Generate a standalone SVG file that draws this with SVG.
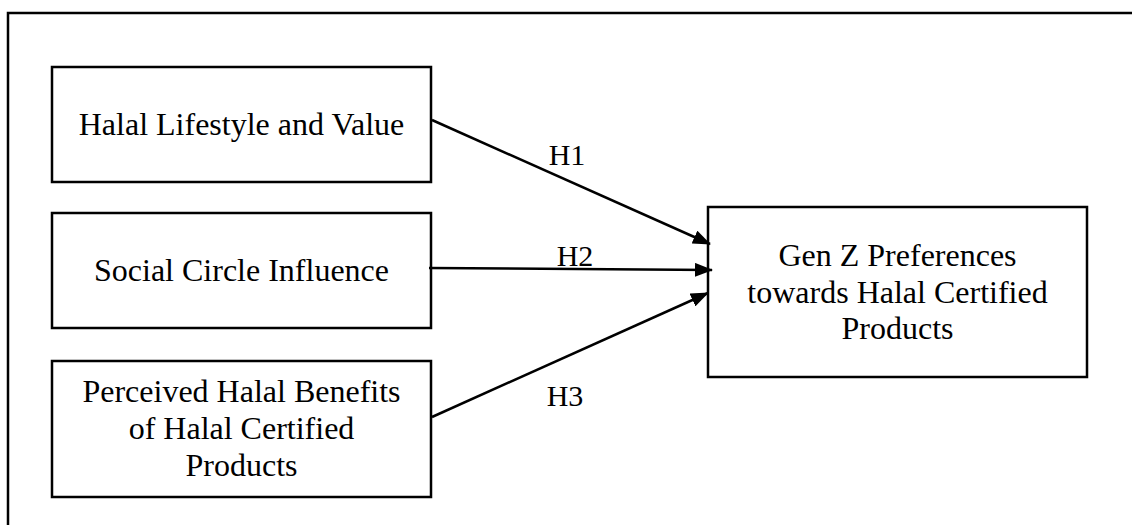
<svg xmlns="http://www.w3.org/2000/svg" width="1132" height="525" viewBox="0 0 1132 525">
<style>
.box{fill:#fff;stroke:#000;stroke-width:2.5}
.t{font-family:"Liberation Serif","Times New Roman",serif;font-size:32px;fill:#000;text-anchor:middle}
.lb{font-family:"Liberation Serif","Times New Roman",serif;font-size:30px;fill:#000;text-anchor:middle}
.c{stroke:#000;stroke-width:2.5;fill:none}
</style>
<defs>
<marker id="ah" markerUnits="userSpaceOnUse" markerWidth="18" markerHeight="14" viewBox="0 0 18 14" refX="17" refY="7" orient="auto">
<path d="M0,0 L18,7 L0,14 Z" fill="#000"/>
</marker>
</defs>
<rect width="1132" height="525" fill="#fff"/>
<path d="M8,525 V13 H1132" fill="none" stroke="#000" stroke-width="2.5"/>
<g id="n1">
<rect class="box" x="52" y="67" width="379" height="115"/>
<text class="t" x="241.5" y="135">Halal Lifestyle and Value</text>
</g>
<g id="n2">
<rect class="box" x="52" y="213" width="379" height="115"/>
<text class="t" x="241.5" y="281">Social Circle Influence</text>
</g>
<g id="n3">
<rect class="box" x="52" y="361" width="379" height="136"/>
<text class="t" x="241.5" y="402">Perceived Halal Benefits</text>
<text class="t" x="241.5" y="439">of Halal Certified</text>
<text class="t" x="241.5" y="476">Products</text>
</g>
<g id="n4">
<rect class="box" x="708" y="207" width="379" height="170"/>
<text class="t" x="897.5" y="266">Gen Z Preferences</text>
<text class="t" x="897.5" y="303">towards Halal Certified</text>
<text class="t" x="897.5" y="339">Products</text>
</g>
<g id="connectors">
<line class="c" x1="432" y1="120" x2="710" y2="244" marker-end="url(#ah)"/>
<line class="c" x1="429" y1="268" x2="712" y2="270" marker-end="url(#ah)"/>
<line class="c" x1="432" y1="417" x2="708" y2="293" marker-end="url(#ah)"/>
<text class="lb" x="567" y="165">H1</text>
<text class="lb" x="575" y="266">H2</text>
<text class="lb" x="565" y="406">H3</text>
</g>
</svg>
